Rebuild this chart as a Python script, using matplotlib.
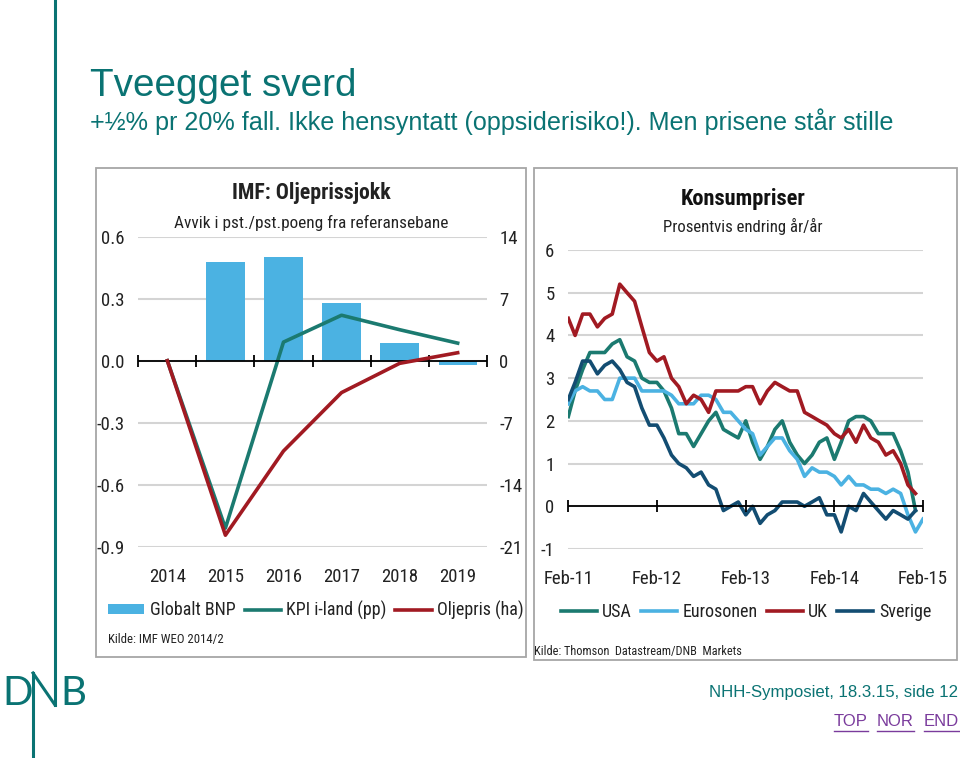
import matplotlib
matplotlib.use('Agg')
import numpy as np
import pandas as pd
import matplotlib.pyplot as plt
from matplotlib.patches import Rectangle
from matplotlib.lines import Line2D

# venstre panel: IMF oljeprissjokk (avvik fra referansebane)
years = ['2014', '2015', '2016', '2017', '2018', '2019']
globalt_bnp = [0.0, 0.48, 0.50, 0.28, 0.085, -0.02]
kpi_iland = [0.0, -0.81, 0.09, 0.22, 0.15, 0.085]
oljepris = [0.0, -19.7, -10.2, -3.6, -0.3, 0.9]
left_ticks = [-0.9, -0.6, -0.3, 0.0, 0.3, 0.6]
right_ticks = [-21, -14, -7, 0, 7, 14]

# høyre panel: konsumpriser, år/år, månedlig fra feb-11
months = pd.date_range('2011-02-01', periods=49, freq='MS')
usa = [2.1, 2.7, 3.2, 3.6, 3.6, 3.6, 3.8, 3.9, 3.5, 3.4, 3.0, 2.9,
       2.9, 2.7, 2.3, 1.7, 1.7, 1.4, 1.7, 2.0, 2.2, 1.8, 1.7, 1.6,
       2.0, 1.5, 1.1, 1.4, 1.8, 2.0, 1.5, 1.2, 1.0, 1.2, 1.5, 1.6,
       1.1, 1.5, 2.0, 2.1, 2.1, 2.0, 1.7, 1.7, 1.7, 1.3, 0.8, -0.1]
eurosonen = [2.4, 2.7, 2.8, 2.7, 2.7, 2.5, 2.5, 3.0, 3.0, 3.0, 2.7, 2.7,
             2.7, 2.7, 2.6, 2.4, 2.4, 2.4, 2.6, 2.6, 2.5, 2.2, 2.2, 2.0,
             1.8, 1.7, 1.2, 1.4, 1.6, 1.6, 1.3, 1.1, 0.7, 0.9, 0.8, 0.8,
             0.7, 0.5, 0.7, 0.5, 0.5, 0.4, 0.4, 0.3, 0.4, 0.3, -0.2, -0.6,
             -0.3]
uk = [4.4, 4.0, 4.5, 4.5, 4.2, 4.4, 4.5, 5.2, 5.0, 4.8, 4.2, 3.6,
      3.4, 3.5, 3.0, 2.8, 2.4, 2.6, 2.5, 2.2, 2.7, 2.7, 2.7, 2.7,
      2.8, 2.8, 2.4, 2.7, 2.9, 2.8, 2.7, 2.7, 2.2, 2.1, 2.0, 1.9,
      1.7, 1.6, 1.8, 1.5, 1.9, 1.6, 1.5, 1.2, 1.3, 1.0, 0.5, 0.3]
sverige = [2.5, 2.9, 3.4, 3.4, 3.1, 3.3, 3.4, 3.2, 2.9, 2.8, 2.3, 1.9,
           1.9, 1.6, 1.2, 1.0, 0.9, 0.7, 0.8, 0.5, 0.4, -0.1, 0.0, 0.1,
           -0.2, 0.0, -0.4, -0.2, -0.1, 0.1, 0.1, 0.1, 0.0, 0.1, 0.2, -0.2,
           -0.2, -0.6, 0.0, -0.1, 0.3, 0.1, -0.1, -0.3, -0.1, -0.2, -0.3, -0.1]
month_labels = ['Feb-11', 'Feb-12', 'Feb-13', 'Feb-14', 'Feb-15']
cpi_ticks = [-1, 0, 1, 2, 3, 4, 5, 6]

TEAL = '#1b7a70'
LBLUE = '#4bb2e2'
RED = '#a11a22'
DBLUE = '#134d72'
DNB = '#0a7373'
GRID = '#d4d4d4'
INK = '#222222'
NARROW = ['Liberation Sans Narrow', 'Arial Narrow', 'Roboto Condensed',
          'Roboto', 'DejaVu Sans']
ARIAL = ['Liberation Sans', 'DejaVu Sans']
TICK_FS = 13.5
LEG_FS = 13

W, H = 960, 758
fig = plt.figure(figsize=(W / 100, H / 100), dpi=100)


def rect(x0, y0, x1, y1):
    # pixel box (y from top) -> figure fractions
    return [x0 / W, 1 - y1 / H, (x1 - x0) / W, (y1 - y0) / H]


def at(x, y):
    return x / W, 1 - y / H


# panel frames
for x0, y0, x1, y1 in [(96, 168, 526, 657), (534, 168, 957, 660)]:
    fig.add_artist(Rectangle((x0 / W, 1 - y1 / H), (x1 - x0) / W, (y1 - y0) / H,
                             transform=fig.transFigure, fill=False,
                             ec='#a6a6a6', lw=1.3))

# ---------- left panel ----------
ax = fig.add_axes(rect(138.3, 236.7, 486.7, 546.7))
ax2 = ax.twinx()
xpos = np.arange(len(years))
ax.bar(xpos, globalt_bnp, width=0.66, color=LBLUE, zorder=2, label='Globalt BNP')
ax.plot(xpos, kpi_iland, color=TEAL, lw=2.6, zorder=3, label='KPI i-land (pp)')
ax2.plot(xpos, oljepris, color=RED, lw=2.6, zorder=4, label='Oljepris (ha)')
ax.axhline(0, color='black', lw=1.3, zorder=5)
edges = np.arange(len(years) + 1) - 0.5
ax.plot(edges, np.zeros(len(edges)), ls='none', marker='|', ms=9, mew=1.3,
        color='black', zorder=5, clip_on=False)

ax.set_xlim(edges[0], edges[-1])
ax.set_ylim(left_ticks[0], left_ticks[-1])
ax2.set_ylim(right_ticks[0], right_ticks[-1])
ax.set_xticks(xpos, years)
ax.set_yticks(left_ticks, [f'{v:.1f}' for v in left_ticks])
ax2.set_yticks(right_ticks, [str(v) for v in right_ticks])
ax.yaxis.grid(True, color=GRID, lw=1.5)
ax.set_axisbelow(True)
for a in (ax, ax2):
    for s in a.spines.values():
        s.set_visible(False)
    a.tick_params(length=0, labelsize=TICK_FS, colors=INK)
    for lab in a.get_xticklabels() + a.get_yticklabels():
        lab.set_family(NARROW)
ax.tick_params(axis='x', pad=15)
ax.tick_params(axis='y', pad=10)
ax2.tick_params(axis='y', pad=9)

h1, l1 = ax.get_legend_handles_labels()
h2, l2 = ax2.get_legend_handles_labels()
fig.legend([h1[1], h1[0], h2[0]], [l1[1], l1[0], l2[0]], loc='center',
           bbox_to_anchor=at(316, 610), ncol=3, frameon=False,
           prop={'family': NARROW, 'size': LEG_FS}, handlelength=2.0,
           handletextpad=0.3, columnspacing=0.5, handleheight=0.5,
           labelcolor=INK)

fig.text(*at(311, 193), 'IMF: Oljeprissjokk', ha='center', va='center',
         family=NARROW, fontsize=15.7, fontweight='bold', color=INK)
fig.text(*at(311, 223), 'Avvik i pst./pst.poeng fra referansebane', ha='center',
         va='center', family=NARROW, fontsize=12.4, color=INK)
fig.text(*at(108, 640), 'Kilde: IMF WEO 2014/2', ha='left', va='center',
         family=NARROW, fontsize=9.2, color=INK)

# ---------- right panel ----------
bx = fig.add_axes(rect(568.3, 250, 923, 549))
for vals, col, name in [(usa, TEAL, 'USA'), (eurosonen, LBLUE, 'Eurosonen'),
                        (uk, RED, 'UK'), (sverige, DBLUE, 'Sverige')]:
    bx.plot(months[:len(vals)], vals, color=col, lw=2.6, label=name, zorder=3)
feb = months[::12]
bx.axhline(0, color='black', lw=1.3, zorder=4)
bx.plot(feb, np.zeros(len(feb)), ls='none', marker='|', ms=9, mew=1.3,
        color='black', zorder=4, clip_on=False)
bx.set_xlim(months[0], months[-1])
bx.set_ylim(cpi_ticks[0], cpi_ticks[-1])
bx.set_xticks(feb, month_labels)
bx.set_yticks(cpi_ticks, [str(v) for v in cpi_ticks])
bx.yaxis.grid(True, color=GRID, lw=1.5)
bx.set_axisbelow(True)
for s in bx.spines.values():
    s.set_visible(False)
bx.tick_params(length=0, labelsize=TICK_FS, colors=INK)
bx.tick_params(axis='x', pad=15)
bx.tick_params(axis='y', pad=10)
for lab in bx.get_xticklabels() + bx.get_yticklabels():
    lab.set_family(NARROW)
bx.legend(loc='center', bbox_to_anchor=at(746, 612),
          bbox_transform=fig.transFigure, ncol=4, frameon=False,
          prop={'family': NARROW, 'size': LEG_FS}, handlelength=2.0,
          handletextpad=0.3, columnspacing=0.5, labelcolor=INK)

fig.text(*at(743, 199), 'Konsumpriser', ha='center', va='center',
         family=NARROW, fontsize=16.1, fontweight='bold', color='#111111')
fig.text(*at(743, 226), 'Prosentvis endring år/år', ha='center',
         va='center', family=NARROW, fontsize=12.1, color=INK)
fig.text(*at(534, 651), 'Kilde: Thomson  Datastream/DNB  Markets', ha='left',
         va='center', family=NARROW, fontsize=8.8, color=INK)

# ---------- slide text ----------
fig.text(*at(90, 96), 'Tveegget sverd', family=ARIAL, fontsize=27.8,
         color=DNB, va='baseline')
fig.text(*at(90, 130), '+½% pr 20% fall. Ikke hensyntatt (oppsiderisiko!). '
         'Men prisene står stille', family=ARIAL, fontsize=18.1,
         color=DNB, va='baseline')
fig.text(*at(958, 697), 'NHH-Symposiet, 18.3.15, side 12', family=ARIAL,
         fontsize=12.1, color=DNB, ha='right', va='baseline')
links = []
for word, xr in [('TOP', 868), ('NOR', 914), ('END', 959)]:
    links.append(fig.text(*at(xr, 726), word, family=ARIAL, fontsize=12,
                          color='#7a3b9c', ha='right', va='baseline'))

# DNB logo
fig.add_artist(Line2D([55 / W, 55 / W], [1.0, 1 - 705 / H], color=DNB, lw=2.2,
                      transform=fig.transFigure))
fig.add_artist(Line2D([33 / W, 33 / W], [1 - 673 / H, 0.0], color=DNB, lw=2.2,
                      transform=fig.transFigure))
fig.add_artist(Line2D([33 / W, 55 / W], [1 - 673 / H, 1 - 705 / H], color=DNB,
                      lw=2.2, transform=fig.transFigure))
for letter, xl in [('D', 2), ('B', 60)]:
    fig.text(*at(xl, 705), letter, family=['Lato', 'DejaVu Sans'],
             fontsize=29, color=DNB, va='baseline')

# underline the links
fig.canvas.draw()
for t in links:
    bb = t.get_window_extent()
    fig.add_artist(Line2D([bb.x0 / W, bb.x1 / W], [(bb.y0 - 2) / H] * 2,
                          color='#7a3b9c', lw=1.0, transform=fig.transFigure))

fig.savefig('out.png', dpi=100, facecolor='white')
